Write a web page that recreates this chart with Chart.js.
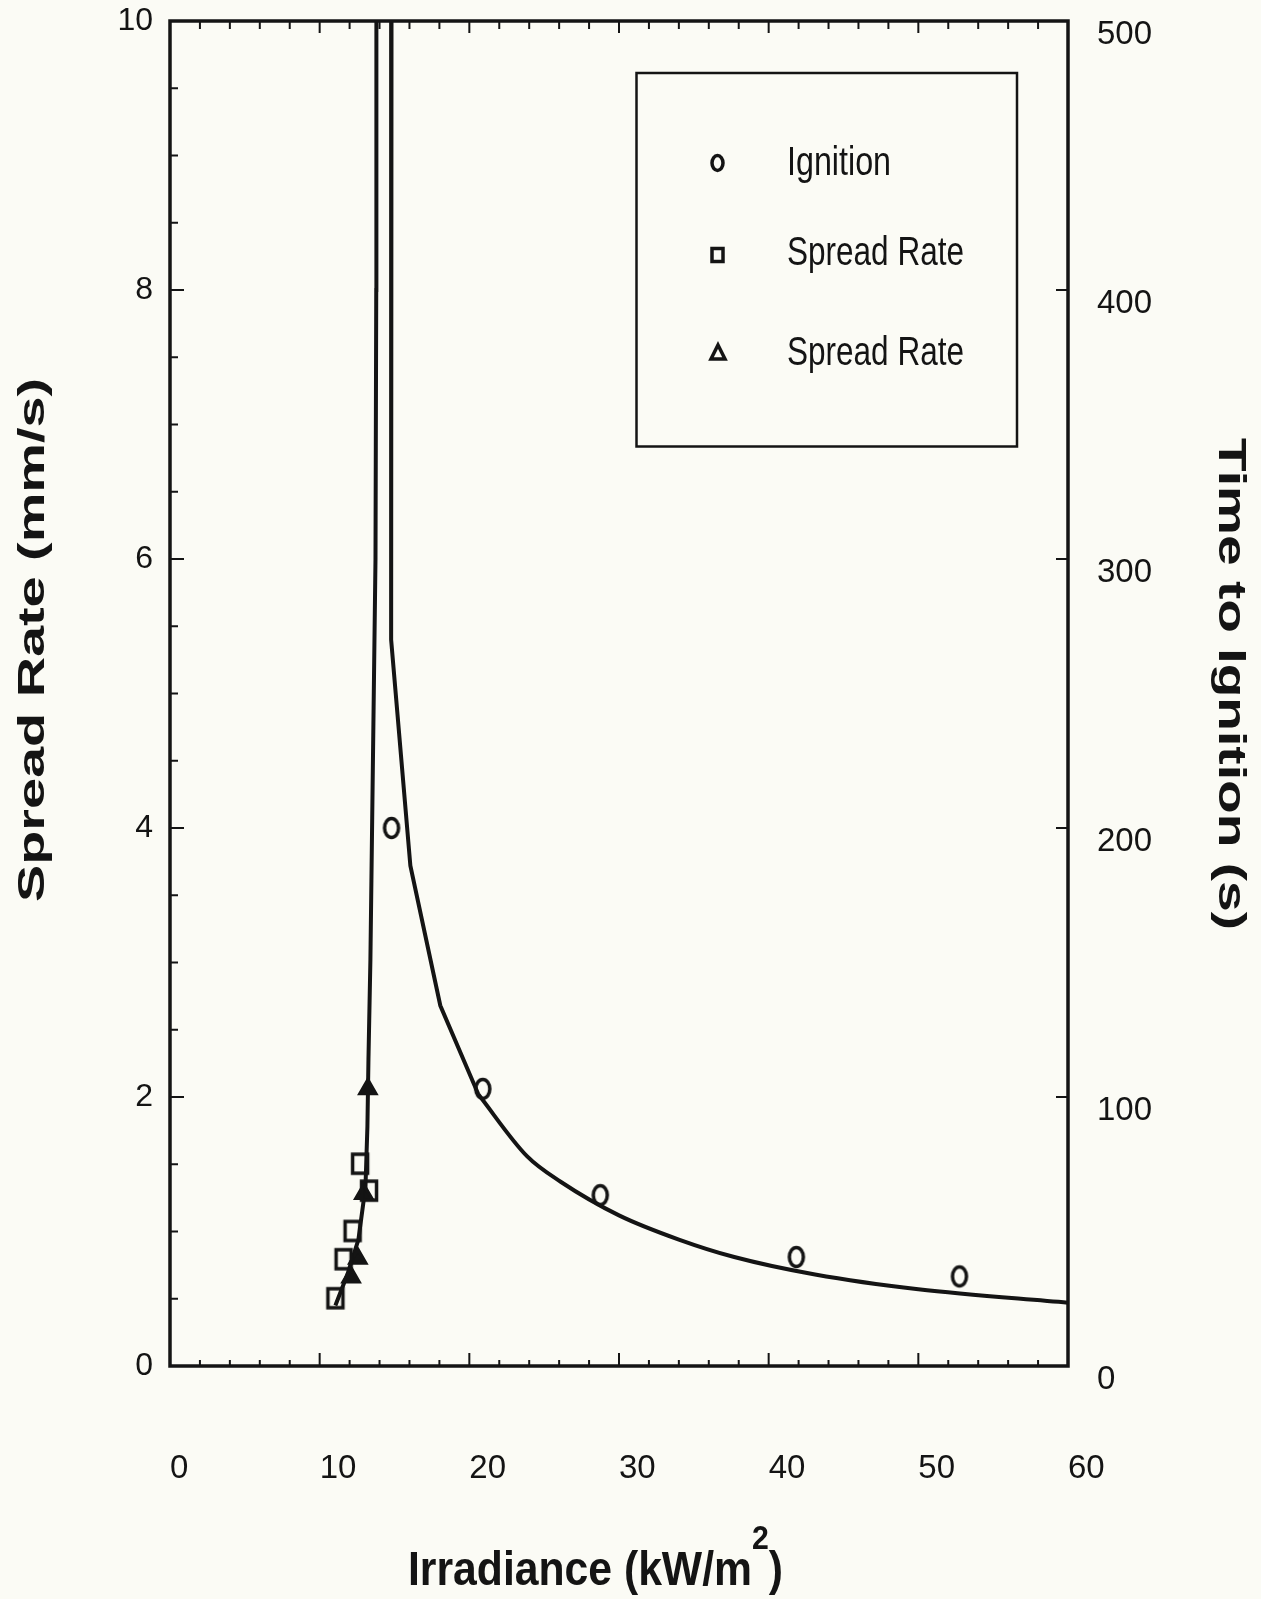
<!DOCTYPE html>
<html>
<head>
<meta charset="utf-8">
<title>Spread rate and time to ignition vs irradiance</title>
<script src="https://cdn.jsdelivr.net/npm/chart.js@4.4.1/dist/chart.umd.min.js"></script>
<style>
  html, body { margin: 0; padding: 0; background: #fbfbf5; }
  #wrap { width: 1261px; height: 1599px; position: relative; }
</style>
</head>
<body>
<div id="wrap"><canvas id="chart"></canvas></div>
<script>
// values
// ignition data (right axis, s)
const ignitionX = [14.8, 20.9, 28.75, 41.85, 52.75];
const ignitionTime = [200, 103, 63.5, 40.5, 33.3];

// spread rate data (left axis, mm/s), two marker sets
const squareX = [11.05, 11.6, 12.2, 12.7, 13.3];
const squareRate = [0.5, 0.79, 1.0, 1.5, 1.3];
const triangleX = [12.1, 12.55, 12.95, 13.22];
const triangleRate = [0.66, 0.8, 1.28, 2.06];

// fitted curves
const spreadFitX = [11.05, 11.85, 12.59, 13.06, 13.19, 13.26, 13.39, 13.56, 13.73, 13.78, 13.79];
const spreadFitRate = [0.45, 0.68, 0.94, 1.33, 1.78, 2.28, 3.02, 4.51, 6.0, 8.0, 10.0];
// ignition fit: straight pieces near the asymptote, smooth tail
const ignHeadX = [14.8, 14.78, 14.77, 16.06, 18.06, 20.6];
const ignHeadTime = [500, 400, 270, 186, 134, 101];
const ignTailX = [20.6, 23.85, 26.1, 30.0, 34.0, 37.7, 43.1, 50.0, 60.0];
const ignTailTime = [101, 78, 68.5, 56, 47, 40.5, 34, 28.5, 23.5];

// axis ranges / tick steps
const xRange = [0, 60], xStep = 10;
const rateRange = [0, 10], rateStep = 2;
const timeRange = [0, 500], timeStep = 100;

const INK = '#141414';
const SANS = "'Liberation Sans', Arial, sans-serif";

const toPoints = (xs, ys) => xs.map((x, i) => ({ x: x, y: ys[i] }));

// hollow oval / tall square markers like the scan
function markerCanvas(kind) {
  const c = document.createElement('canvas');
  c.width = 22; c.height = 28;
  const g = c.getContext('2d');
  g.strokeStyle = INK;
  g.lineWidth = 3.5;
  if (kind === 'oval') {
    g.beginPath();
    g.ellipse(11, 14, 7, 9.5, 0, 0, Math.PI * 2);
    g.stroke();
  } else {
    g.strokeRect(3.5, 4, 15, 19);
  }
  return c;
}

// drop the extra room chart.js keeps for edge labels
function fixBox(size, key) {
  return (s) => {
    s[key] = size;
    s.paddingTop = 0; s.paddingBottom = 0; s.paddingLeft = 0; s.paddingRight = 0;
  };
}

// frame + inward tick marks on all four sides
const frameTicks = {
  id: 'frameTicks',
  afterDraw(chart) {
    const { ctx, chartArea: a, scales } = chart;
    ctx.save();
    ctx.strokeStyle = INK;
    ctx.lineWidth = 2;
    ctx.beginPath();
    for (let v = 2; v < xRange[1]; v += 2) {
      const px = scales.x.getPixelForValue(v);
      const major = v % 10 === 0;
      ctx.moveTo(px, a.bottom); ctx.lineTo(px, a.bottom - (major ? 13 : 6));
      ctx.moveTo(px, a.top); ctx.lineTo(px, a.top + (major ? 12 : 8));
    }
    for (let v = 0.5; v < rateRange[1]; v += 0.5) {
      const py = scales.y.getPixelForValue(v);
      ctx.moveTo(a.left, py); ctx.lineTo(a.left + (v % 2 === 0 ? 14 : 8), py);
    }
    for (let v = timeStep; v < timeRange[1]; v += timeStep) {
      const py = scales.y2.getPixelForValue(v);
      ctx.moveTo(a.right, py); ctx.lineTo(a.right - 12, py);
    }
    ctx.stroke();
    ctx.lineWidth = 3.5;
    ctx.strokeRect(a.left, a.top, a.right - a.left, a.bottom - a.top);
    ctx.restore();
  }
};

// text squeezed/stretched to the length it has in the scan
function fittedText(ctx, text, x, y, rot, width, font, align) {
  ctx.save();
  ctx.font = font;
  ctx.translate(x, y);
  ctx.rotate(rot);
  const w = ctx.measureText(text).width;
  ctx.scale(width / w, 1);
  ctx.textAlign = align || 'center';
  ctx.textBaseline = 'alphabetic';
  ctx.fillText(text, 0, 0);
  ctx.restore();
}

const titles = {
  id: 'titles',
  afterDraw(chart) {
    const ctx = chart.ctx;
    ctx.fillStyle = INK;
    fittedText(ctx, 'Spread Rate (mm/s)', 44, 640, -Math.PI / 2, 524, 'bold 36px ' + SANS);
    fittedText(ctx, 'Time to Ignition (s)', 1219, 684, Math.PI / 2, 492, 'bold 38px ' + SANS);

    // x title with superscript 2
    ctx.save();
    const main = 'Irradiance (kW/m', sup = '2', tail = ')';
    const fMain = 'bold 48px ' + SANS, fSup = 'bold 34px ' + SANS;
    ctx.font = fMain;
    const w1 = ctx.measureText(main).width, w3 = ctx.measureText(tail).width;
    ctx.font = fSup;
    const w2 = ctx.measureText(sup).width;
    const k = 375 / (w1 + w2 + w3);
    ctx.translate(408, 1585);
    ctx.scale(k, 1);
    ctx.textBaseline = 'alphabetic';
    ctx.textAlign = 'left';
    ctx.font = fMain; ctx.fillText(main, 0, 0);
    ctx.font = fSup; ctx.fillText(sup, w1, -36);
    ctx.font = fMain; ctx.fillText(tail, w1 + w2, 0);
    ctx.restore();
  }
};

// legend box inside the plot
const legendBox = {
  id: 'legendBox',
  afterDraw(chart) {
    const ctx = chart.ctx;
    ctx.save();
    ctx.strokeStyle = INK;
    ctx.fillStyle = INK;
    ctx.lineWidth = 2.5;
    ctx.strokeRect(636.5, 73, 380.5, 373.5);
    ctx.lineWidth = 3.5;
    ctx.beginPath();
    ctx.ellipse(717.5, 163, 5.5, 7.5, 0, 0, Math.PI * 2);
    ctx.stroke();
    ctx.strokeRect(712, 248.5, 11, 13);
    ctx.beginPath();
    ctx.moveTo(718, 345); ctx.lineTo(725, 359); ctx.lineTo(711, 359); ctx.closePath();
    ctx.stroke();
    const f = '40px ' + SANS;
    fittedText(ctx, 'Ignition', 787, 175, 0, 104, f, 'left');
    fittedText(ctx, 'Spread Rate', 787, 265, 0, 177, f, 'left');
    fittedText(ctx, 'Spread Rate', 787, 365, 0, 177, f, 'left');
    ctx.restore();
  }
};

const lineStyle = { showLine: true, borderColor: INK, borderWidth: 4, pointRadius: 0 };

const data = {
  datasets: [
    {
      label: 'Ignition',
      data: toPoints(ignitionX, ignitionTime),
      yAxisID: 'y2',
      pointStyle: markerCanvas('oval'),
      pointRadius: 10,
    },
    {
      label: 'Spread Rate',
      data: toPoints(squareX, squareRate),
      yAxisID: 'y',
      pointStyle: markerCanvas('rect'),
      pointRadius: 10,
    },
    {
      label: 'Spread Rate ',
      data: toPoints(triangleX, triangleRate),
      yAxisID: 'y',
      pointStyle: 'triangle',
      pointRadius: 9,
      pointBorderWidth: 3.5,
      pointBorderColor: INK,
      pointBackgroundColor: INK,
    },
    Object.assign({ label: 'spread fit', data: toPoints(spreadFitX, spreadFitRate), yAxisID: 'y', tension: 0 }, lineStyle),
    Object.assign({ label: 'ignition fit', data: toPoints(ignHeadX, ignHeadTime), yAxisID: 'y2', tension: 0 }, lineStyle),
    Object.assign({ label: 'ignition fit tail', data: toPoints(ignTailX, ignTailTime), yAxisID: 'y2', cubicInterpolationMode: 'monotone' }, lineStyle),
  ],
};

const options = {
  responsive: true,
  maintainAspectRatio: false,
  animation: false,
  layout: { padding: { top: 21, left: 0, right: 0, bottom: 0 } },
  plugins: {
    legend: { display: false },
    tooltip: { enabled: false },
  },
  scales: {
    x: {
      type: 'linear',
      min: xRange[0], max: xRange[1],
      grid: { display: false, drawTicks: false },
      border: { display: false },
      ticks: {
        stepSize: xStep, align: 'start', maxRotation: 0, autoSkip: false,
        padding: 83, color: INK, font: { family: SANS, size: 33 },
      },
      afterFit: fixBox(233, 'height'),
    },
    y: {
      type: 'linear', position: 'left',
      min: rateRange[0], max: rateRange[1],
      grid: { display: false, drawTicks: false },
      border: { display: false },
      ticks: { stepSize: rateStep, padding: 17, color: INK, font: { family: SANS, size: 32 } },
      afterFit: fixBox(170, 'width'),
    },
    y2: {
      type: 'linear', position: 'right',
      min: timeRange[0], max: timeRange[1],
      grid: { display: false, drawTicks: false },
      border: { display: false },
      ticks: { stepSize: timeStep, padding: 29, labelOffset: 14, color: INK, font: { family: SANS, size: 33 } },
      afterFit: fixBox(193, 'width'),
    },
  },
};

new Chart(document.getElementById('chart'), {
  type: 'scatter',
  data: data,
  options: options,
  plugins: [frameTicks, titles, legendBox],
});
</script>
</body>
</html>
